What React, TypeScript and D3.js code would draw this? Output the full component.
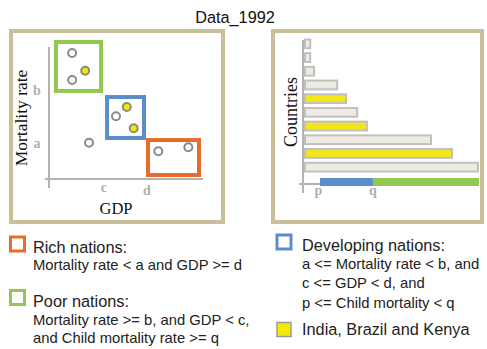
import React from 'react';
import * as d3 from 'd3';

const TITLE = 'Data_1992';

// Scatter panel (GDP on x, mortality rate on y, in % of axis extent)
const pointGDP = [15, 23.5, 15, 50.5, 43.5, 55, 26, 71, 90.5];
const pointMortality = [95.5, 82, 75, 54.5, 47.5, 38.5, 27.5, 21, 24];
const pointHighlighted = [false, true, false, true, false, true, false, false, false];

// group boxes (GDP range, mortality range)
const groupNames = ['Poor', 'Developing', 'Rich'];
const groupColors = ['#92c84f', '#5a8dcb', '#e46d29'];
const groupGDPFrom = [4.5, 37.7, 64.3];
const groupGDPTo = [33.8, 61.7, 97.4];
const groupMortFrom = [66.7, 31.1, 3];
const groupMortTo = [103.8, 62.1, 29.5];

const mortalityTickLabels = ['a', 'b'];
const mortalityTickValues = [26.5, 67.4];
const gdpTickLabels = ['c', 'd'];
const gdpTickValues = [35.7, 63.6];

// Bar panel (child mortality per country)
const countries = ['C1', 'C2', 'C3', 'C4', 'C5', 'C6', 'C7', 'C8', 'C9', 'C10'];
const childMortality = [3, 3, 5.2, 18.5, 23.6, 30, 35.6, 72.4, 84.5, 99.4];
const countryHighlighted = [false, false, false, false, true, false, true, false, true, false];
const childTickLabels = ['p', 'q'];
const childTickValues = [8.6, 39];
const childRangeEnd = 100;

const legendTitles = ['Rich nations:', 'Poor nations:', 'Developing nations:', 'India, Brazil and Kenya'];

const SERIF = '"Liberation Serif", "Times New Roman", serif';
const SANS = '"Liberation Sans", Arial, sans-serif';
const FRAME = '#c9bf98';
const AXIS = '#b3b3b3';
const LABEL = '#b0b0b0';
const YELLOW = '#f5e600';

export default function App() {
  // scatter scales
  const x1 = d3.scaleLinear().domain([0, 100]).range([49, 203]);
  const y1 = d3.scaleLinear().domain([0, 100]).range([179, 47]);
  // bar scales
  const x2 = d3.scaleLinear().domain([0, 100]).range([305, 479]);
  const y2 = d3.scaleBand<string>().domain(countries).range([37, 174]).paddingInner(0.36).paddingOuter(0.18);

  const legendSq = (cx: number, cy: number, stroke: string, fill: string, sw: number) => (
    <rect x={cx - 7} y={cy - 7} width={14} height={14} fill={fill} stroke={stroke} strokeWidth={sw} />
  );

  return (
    <svg width={487} height={349} style={{ position: 'absolute', left: 0, top: 0, background: '#fff' }}>
      <text x={235} y={23} textAnchor="middle" fontFamily={SANS} fontSize={16.3} fill="#111">{TITLE}</text>

      {/* Left panel */}
      <rect x={11} y={31} width={212} height={191} fill="#fff" stroke={FRAME} strokeWidth={4} />
      <line x1={x1(0)} x2={x1(0)} y1={y1(100)} y2={188} stroke={AXIS} strokeWidth={2} />
      <line x1={45} x2={x1(100)} y1={y1(0)} y2={y1(0)} stroke={AXIS} strokeWidth={2} />
      {groupNames.map((g, i) => (
        <rect key={g}
          x={x1(groupGDPFrom[i])} y={y1(groupMortTo[i])}
          width={x1(groupGDPTo[i]) - x1(groupGDPFrom[i])}
          height={y1(groupMortFrom[i]) - y1(groupMortTo[i])}
          fill="none" stroke={groupColors[i]} strokeWidth={4} />
      ))}
      {pointGDP.map((v, i) => (
        <circle key={i} cx={x1(v)} cy={y1(pointMortality[i])} r={4}
          fill={pointHighlighted[i] ? YELLOW : '#fff'} stroke="#8a8a8a" strokeWidth={2} />
      ))}
      {mortalityTickLabels.map((t, i) => (
        <text key={t} x={37} y={y1(mortalityTickValues[i])} dy={t === 'b' ? 5 : 4} textAnchor="middle"
          fontFamily={SERIF} fontWeight="bold" fontSize={14} fill={LABEL}>{t}</text>
      ))}
      {gdpTickLabels.map((t, i) => (
        <text key={t} x={x1(gdpTickValues[i])} y={t === 'c' ? 192 : 195} textAnchor="middle"
          fontFamily={SERIF} fontWeight="bold" fontSize={14} fill={LABEL}>{t}</text>
      ))}
      <text transform="translate(27,118) rotate(-90)" textAnchor="middle" fontFamily={SERIF} fontSize={17.5} fill="#111">Mortality rate</text>
      <text x={116} y={214} textAnchor="middle" fontFamily={SERIF} fontSize={16.5} fill="#111">GDP</text>

      {/* Right panel */}
      <rect x={273} y={31} width={209} height={191} fill="#fff" stroke={FRAME} strokeWidth={4} />
      <line x1={303} x2={303} y1={40} y2={193} stroke={AXIS} strokeWidth={2} />
      <line x1={299} x2={x2(childRangeEnd)} y1={184} y2={184} stroke={AXIS} strokeWidth={2} />
      {countries.map((c, i) => (
        <rect key={c} x={x2(0)} y={y2(c)} width={x2(childMortality[i]) - x2(0)} height={y2.bandwidth()}
          fill={countryHighlighted[i] ? '#f3e51b' : '#eeece2'} stroke="#c0c0c0" strokeWidth={2} />
      ))}
      <rect x={x2(childTickValues[0])} y={178} width={x2(childTickValues[1]) - x2(childTickValues[0])} height={8} fill={groupColors[1]} />
      <rect x={x2(childTickValues[1])} y={178} width={x2(childRangeEnd) - x2(childTickValues[1])} height={8} fill={groupColors[0]} />
      {childTickLabels.map((t, i) => (
        <text key={t} x={x2(childTickValues[i]) - (i === 0 ? 1.5 : 0)} y={195} textAnchor="middle"
          fontFamily={SERIF} fontWeight="bold" fontSize={14} fill={LABEL}>{t}</text>
      ))}
      <text transform="translate(297,112) rotate(-90)" textAnchor="middle" fontFamily={SERIF} fontSize={18} fill="#111">Countries</text>

      {/* Legend */}
      {legendSq(17.5, 244, groupColors[2], '#fff', 3)}
      <text x={33} y={253} fontFamily={SANS} fontSize={16.3} fill="#222">{legendTitles[0]}</text>
      <text x={33} y={270} fontFamily={SANS} fontSize={14.8} fill="#222">Mortality rate &lt; a and GDP &gt;= d</text>

      {legendSq(17.5, 297.5, groupColors[0], '#fff', 3)}
      <text x={33} y={307} fontFamily={SANS} fontSize={16.3} fill="#222">{legendTitles[1]}</text>
      <text x={33} y={325} fontFamily={SANS} fontSize={14.8} fill="#222">Mortality rate &gt;= b, and GDP &lt; c,</text>
      <text x={33} y={343} fontFamily={SANS} fontSize={14.8} fill="#222">and Child mortality rate &gt;= q</text>

      {legendSq(284, 242, groupColors[1], '#fff', 3)}
      <text x={302} y={251} fontFamily={SANS} fontSize={16.3} fill="#222">{legendTitles[2]}</text>
      <text x={302} y={269} fontFamily={SANS} fontSize={14.8} fill="#222">a &lt;= Mortality rate &lt; b, and</text>
      <text x={302} y={288} fontFamily={SANS} fontSize={14.8} fill="#222">c &lt;= GDP &lt; d, and</text>
      <text x={302} y={308} fontFamily={SANS} fontSize={14.8} fill="#222">p &lt;= Child mortality &lt; q</text>

      {legendSq(284, 329.5, '#999', '#f7ea00', 1.5)}
      <text x={302} y={335} fontFamily={SANS} fontSize={16.3} fill="#222">{legendTitles[3]}</text>
    </svg>
  );
}
